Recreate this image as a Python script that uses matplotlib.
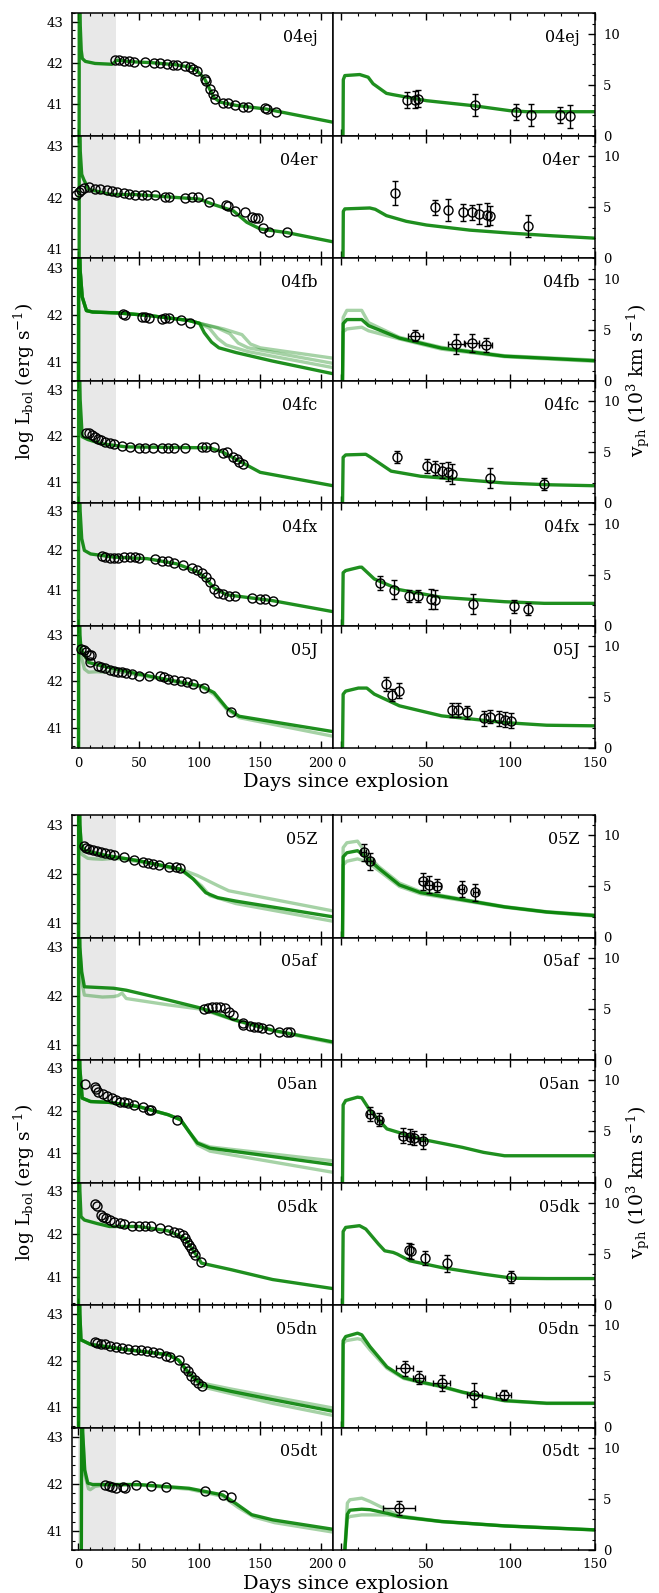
import matplotlib
matplotlib.use("Agg")
import matplotlib.pyplot as plt
from matplotlib.ticker import MultipleLocator

plt.rcParams["font.family"] = "DejaVu Serif"
plt.rcParams["mathtext.fontset"] = "dejavuserif"

W, H = 659, 1593
GREEN = "#008000"

SN_TOP = ["04ej", "04er", "04fb", "04fc", "04fx", "05J"]
SN_BOT = ["05Z", "05af", "05an", "05dk", "05dn", "05dt"]
LC_YMIN = [40.22, 40.82, 40.6, 40.55, 40.08, 40.56, 40.71, 40.69, 40.31, 40.36, 40.56, 40.6]

# ---------------- bolometric light curves: observations ----------------
lc_t_04ej = [30.7, 33.4, 37.5, 41.6, 45.7, 55.3, 62.2, 67.6, 73.1, 78.6, 81.3, 88.2, 92.3, 95, 97.8,
             104.6, 105.4, 108.7, 111.5, 112.8, 119.7, 123.8, 129.3, 136.1, 140.2, 154, 155.3, 162.7]
lc_L_04ej = [42.07, 42.07, 42.05, 42.03, 42.01, 42.01, 42.0, 41.99, 41.97, 41.95, 41.95, 41.91, 41.89, 41.85, 41.79,
             41.61, 41.56, 41.35, 41.23, 41.11, 41.03, 41.03, 40.97, 40.91, 40.92, 40.89, 40.87, 40.80]
lc_t_04er = [-1.4, 0.5, 2.4, 5.2, 8.7, 14.3, 18.3, 23.8, 27.9, 32, 37.5, 41.6, 47.1, 52.6, 56.7, 63.5, 71.8,
             74.5, 88.2, 93.7, 99.2, 107.9, 121.9, 123.3, 129.3, 137.5, 143, 145.7, 148.4, 152.5, 157.5, 171.7]
lc_L_04er = [42.05, 42.1, 42.14, 42.19, 42.21, 42.17, 42.16, 42.14, 42.13, 42.11, 42.08, 42.06, 42.05, 42.05, 42.05, 42.05, 42.02,
             42.01, 42.0, 42.01, 42.01, 41.92, 41.86, 41.84, 41.74, 41.71, 41.63, 41.61, 41.61, 41.4, 41.34, 41.34]
lc_t_04fb = [37.2, 38.3, 52.8, 55.2, 58.6, 69, 71.7, 74.8, 84.5, 92.4]
lc_L_04fb = [42.02, 42.0, 41.96, 41.95, 41.93, 41.91, 41.93, 41.94, 41.88, 41.83]
lc_t_04fc = [6.9, 9.3, 11.4, 13.8, 16.2, 19, 22.4, 25.9, 29.3, 36.2, 43.1, 50, 55.2, 62.1, 69, 74.1, 79.3,
             87.9, 101.7, 105.2, 112.1, 119, 122.4, 127.6, 131, 132.8, 135.5]
lc_L_04fc = [42.07, 42.06, 42.02, 41.99, 41.95, 41.91, 41.88, 41.85, 41.83, 41.78, 41.77, 41.75, 41.75, 41.74, 41.74, 41.75, 41.74,
             41.75, 41.77, 41.77, 41.77, 41.64, 41.66, 41.56, 41.51, 41.44, 41.4]
lc_t_04fx = [19.7, 22.4, 25.9, 29.3, 32.8, 37.9, 43.1, 46.6, 50, 63.1, 69, 74.1, 79.3, 86.2, 94.1, 98.3, 101.7,
             105.2, 108.6, 112.1, 115.5, 119, 124.1, 129.3, 143.1, 150, 154.1, 160.3]
lc_L_04fx = [41.85, 41.83, 41.81, 41.81, 41.81, 41.82, 41.82, 41.82, 41.8, 41.77, 41.74, 41.73, 41.68, 41.62, 41.55, 41.49, 41.42,
             41.32, 41.19, 41.02, 40.92, 40.88, 40.85, 40.83, 40.79, 40.77, 40.75, 40.71]
lc_t_05J = [2.4, 4.5, 6.9, 8.6, 10.3, 9.7, 16.2, 19, 22.4, 25.9, 29.3, 32.8, 36.2, 39.7, 44.8, 50, 58.6,
            67.2, 70.7, 74.1, 79.3, 84.5, 89.7, 94.8, 103.4, 125.9]
lc_L_05J = [42.69, 42.67, 42.63, 42.57, 42.56, 42.41, 42.34, 42.31, 42.28, 42.25, 42.23, 42.21, 42.2, 42.18, 42.16, 42.12, 42.11,
            42.12, 42.09, 42.05, 42.04, 42.01, 41.99, 41.94, 41.85, 41.34]
lc_t_05Z = [4.5, 6.9, 9.3, 12.1, 15.5, 19, 22.4, 25.9, 29.3, 37.9, 45.9, 53.4, 57.6, 62.1, 66.6, 74.8, 80.3, 83.8]
lc_L_05Z = [42.57, 42.53, 42.5, 42.48, 42.46, 42.44, 42.43, 42.41, 42.38, 42.34, 42.29, 42.25, 42.23, 42.2, 42.18, 42.14, 42.14, 42.12]
lc_t_05af = [103.4, 106.9, 110.3, 113.8, 117.2, 120.7, 124.1, 127.6, 135.5, 136.2, 141.4, 144.8, 148.3, 151.7,
             156.9, 165.5, 172.4, 174.8]
lc_L_05af = [41.73, 41.75, 41.77, 41.77, 41.77, 41.75, 41.68, 41.61, 41.44, 41.41, 41.39, 41.37, 41.36, 41.35,
             41.32, 41.27, 41.27, 41.27]
lc_t_05an = [5.9, 13.8, 14.8, 16.2, 20.7, 24.1, 27.6, 31, 34.5, 37.9, 41.4, 45.9, 53.4, 58.6, 60.3, 81.7]
lc_L_05an = [42.63, 42.56, 42.51, 42.45, 42.4, 42.35, 42.3, 42.26, 42.22, 42.2, 42.18, 42.14, 42.09, 42.02, 42.01, 41.79]
lc_t_05dk = [13.8, 15.5, 19, 20.7, 23.1, 25.9, 29.3, 34.5, 37.9, 44.8, 50, 55.2, 60.3, 67.2, 74.1, 79.3, 82.8,
             86.2, 87.9, 89.7, 91.4, 93.1, 94.8, 96.6, 101]
lc_L_05dk = [42.71, 42.65, 42.44, 42.41, 42.37, 42.33, 42.29, 42.27, 42.24, 42.19, 42.19, 42.19, 42.18, 42.14, 42.1, 42.06, 42.02,
             41.98, 41.91, 41.83, 41.75, 41.68, 41.6, 41.52, 41.35]
lc_t_05dn = [13.8, 15.5, 19, 22.4, 25.9, 31, 36.2, 41.4, 46.6, 51.7, 56.9, 62.1, 66.6, 72.4, 75.9, 82.8, 87.9,
             90.7, 93.1, 96.6, 99, 101.7]
lc_L_05dn = [42.4, 42.38, 42.36, 42.35, 42.32, 42.29, 42.27, 42.25, 42.24, 42.22, 42.2, 42.18, 42.17, 42.11, 42.08, 42.01, 41.84,
             41.77, 41.68, 41.59, 41.52, 41.45]
lc_t_05dt = [22.4, 25.2, 27.6, 31, 37.2, 39, 47.6, 59.7, 72.4, 104.5, 119.7, 125.9]
lc_L_05dt = [41.99, 41.95, 41.94, 41.91, 41.93, 41.91, 41.97, 41.95, 41.93, 41.86, 41.77, 41.72]

# ---------------- bolometric light curves: models ----------------
mlc_t_04ej = [0.8, 1.0, 1.8, 2.6, 3.5, 6, 14, 28, 32, 45, 60, 80, 92, 98, 104, 108, 112, 117, 130, 155, 210]
mlc_L_04ej = [38, 44.5, 42.9, 42.3, 42.1, 42.03, 41.98, 41.96, 42.06, 42.02, 42.0, 41.95, 41.89, 41.8, 41.62, 41.38, 41.15,
              41.04, 40.96, 40.87, 40.55]
mlc_t_04er = [0.8, 1.0, 1.8, 3.0, 4.7, 8.7, 27, 46, 100, 111, 128, 139, 150, 172, 210]
mlc_L_04er = [38, 44.5, 42.9, 42.45, 42.35, 42.16, 42.06, 42.06, 41.97, 41.87, 41.74, 41.52, 41.39, 41.32, 41.14]
mlc_t_04fb = [0.3, 0.5, 1.7, 3.4, 6.9, 12, 32.8, 56.9, 91.4, 100]
mlc_L_04fb = [38, 44.5, 42.95, 42.38, 42.09, 42.06, 42.04, 41.99, 41.88, 41.82]
mlc_t_04fb_a = [104, 110, 116, 130, 160, 210]
mlc_L_04fb_a = [41.62, 41.42, 41.3, 41.2, 41.02, 40.75]
mlc_t_04fb_b = [108, 115, 122, 140, 210]
mlc_L_04fb_b = [41.72, 41.5, 41.36, 41.22, 40.88]
mlc_t_04fb_c = [115, 125, 132, 140, 210]
mlc_L_04fb_c = [41.72, 41.6, 41.4, 41.3, 40.97]
mlc_t_04fb_d = [120, 135, 142, 150, 210]
mlc_L_04fb_d = [41.7, 41.58, 41.38, 41.3, 41.08]
mlc_t_04fc = [0.3, 0.5, 1.7, 3.4, 8, 19, 39.7, 108.6, 119, 134.5, 150, 210]
mlc_L_04fc = [38, 44.5, 42.8, 41.99, 41.93, 41.84, 41.77, 41.75, 41.66, 41.44, 41.22, 40.93]
mlc_t_04fx = [0.3, 0.5, 1.7, 3.0, 5.2, 10.3, 29.3, 56.9, 81, 98.3, 105, 112, 122.4, 160.3, 210]
mlc_L_04fx = [38, 44.5, 43.0, 42.3, 42.0, 41.91, 41.83, 41.79, 41.66, 41.46, 41.3, 41.04, 40.87, 40.72, 40.44]
mlc_t_05J = [0.3, 0.5, 1.5, 2.4, 8.6, 19, 50, 101.7, 112, 122.4, 132.8, 210]
mlc_L_05J = [38, 44.5, 43.0, 42.7, 42.41, 42.34, 42.16, 41.9, 41.76, 41.43, 41.25, 40.92]
mlc_t_05J_b = [0.3, 0.5, 1.5, 3.0, 5.2, 8.6, 15.5, 22, 30, 50, 101.7, 112, 122.4, 132.8, 210]
mlc_L_05J_b = [38, 44.5, 43.0, 42.5, 42.27, 42.2, 42.21, 42.2, 42.22, 42.14, 41.88, 41.72, 41.4, 41.22, 40.82]
mlc_t_05Z = [0.3, 0.5, 1.5, 2.5, 5.2, 22.4, 50, 84.5, 94.8, 105.2, 115, 130, 210]
mlc_L_05Z = [38, 44.5, 43.0, 42.6, 42.48, 42.38, 42.27, 42.1, 41.9, 41.62, 41.52, 41.45, 41.13]
mlc_t_05Z_b = [84.5, 98.3, 115.5, 124.1, 210]
mlc_L_05Z_b = [42.1, 41.97, 41.76, 41.66, 41.25]
mlc_t_05Z_c = [0.3, 0.5, 1.5, 3, 8, 12, 20, 30, 50, 84.5, 94, 101.7, 108.6, 130, 210]
mlc_L_05Z_c = [38, 44.5, 43.0, 42.4, 42.32, 42.31, 42.3, 42.32, 42.25, 42.08, 41.92, 41.76, 41.56, 41.4, 41.04]
mlc_t_05af = [0.3, 0.5, 1.5, 3.0, 5.2, 29.3, 39.7, 74.1, 101.7, 129.3, 160.3, 210]
mlc_L_05af = [38, 44.5, 43.0, 42.5, 42.19, 42.16, 42.12, 41.92, 41.75, 41.51, 41.3, 41.06]
mlc_t_05af_b = [0.3, 0.5, 1.5, 3.0, 5.2, 20, 29.3, 33, 36.2, 39.7, 74.1, 101.7, 129.3, 160.3, 210]
mlc_L_05af_b = [38, 44.5, 43.0, 42.3, 42.02, 41.98, 41.99, 42.01, 42.06, 41.95, 41.82, 41.73, 41.5, 41.29, 41.04]
mlc_t_05an = [0.3, 0.5, 1.5, 3.4, 10.3, 25.9, 50, 74.1, 84.5, 91.4, 98.3, 108.6, 210]
mlc_L_05an = [38, 44.5, 43.0, 42.3, 42.22, 42.2, 42.1, 41.91, 41.79, 41.51, 41.24, 41.12, 40.73]
mlc_t_05an_b = [98.3, 108.6, 210]
mlc_L_05an_b = [41.26, 41.15, 40.82]
mlc_t_05an_c = [98.3, 108.6, 210]
mlc_L_05an_c = [41.2, 41.05, 40.55]
mlc_t_05dk = [0.3, 0.5, 1.5, 2.4, 5.2, 15.5, 25.9, 50, 74, 88, 98, 101.7, 125.9, 160.3, 210]
mlc_L_05dk = [38, 44.5, 43.0, 42.41, 42.33, 42.25, 42.18, 42.18, 42.08, 41.91, 41.49, 41.33, 41.18, 40.95, 40.74]
mlc_t_05dn = [0.3, 0.5, 1.5, 2.4, 10.3, 39.7, 74.1, 82.8, 91.4, 101.7, 125.9, 160.3, 210]
mlc_L_05dn = [38, 44.5, 43.0, 42.45, 42.35, 42.24, 42.13, 42.01, 41.73, 41.48, 41.34, 41.16, 40.91]
mlc_t_05dn_b = [91.4, 101.7, 125.9, 160.3, 210]
mlc_L_05dn_b = [41.75, 41.52, 41.39, 41.22, 40.98]
mlc_t_05dn_c = [91.4, 101.7, 125.9, 160.3, 210]
mlc_L_05dn_c = [41.7, 41.44, 41.29, 41.08, 40.82]
mlc_t_05dt = [2.5, 3.0, 3.8, 5.5, 8.0, 12, 22.4, 50, 91.4, 119, 129.3, 143, 160.3, 210]
mlc_L_05dt = [38, 44.5, 43.1, 42.3, 42.02, 41.99, 41.99, 41.99, 41.91, 41.77, 41.6, 41.35, 41.24, 41.04]
mlc_t_05dt_b = [2.5, 3.0, 3.8, 5.5, 8.6, 10, 14, 22.4, 50, 91.4, 119, 132, 145, 162, 210]
mlc_L_05dt_b = [38, 44.5, 43.1, 42.2, 41.9, 41.88, 41.95, 41.98, 41.98, 41.89, 41.74, 41.5, 41.3, 41.18, 40.98]

# ---------------- photospheric velocities: observations ----------------
v_t_04ej = [39, 43.5, 45, 79, 103, 112, 129, 135]
v_v_04ej = [3.5, 3.55, 3.65, 3.0, 2.35, 2.05, 2.05, 1.9]
v_e_04ej = [0.8, 0.8, 0.8, 1.1, 0.8, 1.1, 0.8, 1.1]
v_t_04er = [31.5, 55.4, 63.3, 72.1, 77.5, 81.4, 86.3, 87.7, 110.4]
v_v_04er = [6.38, 5.0, 4.74, 4.5, 4.5, 4.34, 4.28, 4.18, 3.12]
v_e_04er = [1.15, 0.75, 1.1, 0.82, 0.72, 1.0, 1.1, 0.92, 1.08]
v_t_04fb = [43.8, 67.9, 77.1, 85.3]
v_v_04fb = [4.43, 3.6, 3.7, 3.5]
v_e_04fb = [0.5, 1.0, 0.9, 0.65]
v_x_04fb = [4.5, 5, 4.5, 3.7]
v_t_04fc = [33.1, 50.5, 55.5, 59.2, 62.9, 65.4, 87.8, 120.1]
v_v_04fc = [4.54, 3.64, 3.48, 3.21, 3.08, 2.88, 2.48, 1.89]
v_e_04fc = [0.6, 0.66, 0.66, 0.73, 0.93, 1.0, 1.0, 0.6]
v_t_04fx = [23.1, 31.1, 39.8, 45, 53, 55.5, 77.9, 102, 110.2]
v_v_04fx = [4.2, 3.54, 2.95, 2.89, 2.62, 2.56, 2.13, 1.9, 1.64]
v_e_04fx = [0.66, 0.92, 0.6, 0.6, 1.0, 0.92, 1.0, 0.66, 0.6]
v_t_05J = [26.1, 29.9, 34.3, 65.4, 69.2, 74.1, 84.1, 87.8, 93.5, 96.5, 100.2]
v_v_05J = [6.3, 5.21, 5.64, 3.74, 3.74, 3.51, 2.92, 3.11, 2.92, 2.79, 2.69]
v_e_05J = [0.66, 0.6, 0.72, 0.72, 0.72, 0.6, 0.72, 0.66, 0.72, 0.72, 0.72]
v_t_05Z = [13.2, 16.9, 48, 51.7, 56.7, 71.1, 79.1]
v_v_05Z = [8.36, 7.47, 5.49, 5.16, 5.07, 4.74, 4.44]
v_e_05Z = [0.82, 0.82, 0.82, 0.82, 0.66, 0.82, 0.82]
v_x_05Z = [1.5, 1.5, 2, 2, 2, 1.5, 1.5]
v_t_05an = [16.9, 22.4, 36.3, 40.5, 43, 48]
v_v_05an = [6.72, 6.16, 4.59, 4.49, 4.36, 4.03]
v_e_05an = [0.72, 0.66, 0.72, 0.72, 0.72, 0.72]
v_x_05an = [1.5, 1.5, 2, 2, 2, 1.5]
v_t_05dk = [40, 41, 49.3, 62.2, 100.2]
v_v_05dk = [5.35, 5.25, 4.59, 4.07, 2.75]
v_e_05dk = [0.72, 0.72, 0.66, 0.82, 0.6]
v_t_05dn = [37.3, 46, 59.2, 78.6, 96]
v_v_05dn = [5.78, 4.88, 4.36, 3.2, 3.2]
v_e_05dn = [0.73, 0.66, 0.82, 1.15, 0.5]
v_x_05dn = [5, 3.7, 5, 4.5, 4.5]
v_t_05dt = [33.8]
v_v_05dt = [4.1]
v_e_05dt = [0.72]
v_x_05dt = [9.5]

# ---------------- photospheric velocities: models ----------------
mv_t_04ej = [0.9, 1.1, 2.0, 10.8, 15.8, 18.7, 26.6, 30.5, 50.3, 78, 99.6, 109.5, 150]
mv_v_04ej = [-0.5, 5.5, 5.9, 6.0, 5.74, 5.1, 4.16, 4.03, 3.44, 2.95, 2.46, 2.36, 2.36]
mv_t_04er = [0.9, 1.1, 2, 16.8, 20, 26.6, 38.4, 50.3, 75.9, 99.6, 125.2, 150]
mv_v_04er = [-0.5, 4.6, 4.84, 4.93, 4.8, 4.18, 3.62, 3.26, 2.76, 2.47, 2.2, 1.97]
mv_t_04fb = [0.6, 1.0, 3.2, 12, 16, 34.3, 59.2, 96.5, 150]
mv_v_04fb = [-0.5, 5.6, 6.0, 6.0, 5.4, 4.18, 3.2, 2.41, 1.97]
mv_v_04fb_b = [-0.5, 6.2, 6.9, 6.9, 5.7, 4.26, 3.28, 2.46, 2.03]
mv_v_04fb_c = [-0.5, 4.8, 5.08, 5.25, 4.9, 4.1, 3.1, 2.36, 1.9]
mv_t_04fc = [0.6, 1.0, 2.5, 14.4, 17, 29.4, 46.8, 71.6, 96.5, 121.4, 150]
mv_v_04fc = [-0.5, 4.5, 4.74, 4.8, 4.54, 3.15, 2.65, 2.32, 1.99, 1.82, 1.72]
mv_t_04fx = [0.6, 1.0, 2.5, 10.7, 12, 19.4, 34.3, 59.2, 96.5, 120, 150]
mv_v_04fx = [-0.5, 5.2, 5.41, 5.74, 5.74, 4.59, 3.54, 2.79, 2.36, 2.2, 2.2]
mv_t_05J = [0.6, 1.0, 2.5, 10, 15, 19.4, 34.3, 59.2, 96.5, 121.4, 150]
mv_v_05J = [-0.5, 5.3, 5.6, 5.9, 5.9, 5.31, 4.16, 3.18, 2.52, 2.26, 2.2]
mv_t_05Z = [0.6, 1.0, 3.2, 9.5, 14.4, 21.9, 34.3, 46.8, 71.6, 96.5, 121.4, 150]
mv_v_05Z = [-0.5, 7.9, 8.3, 8.5, 7.9, 6.8, 5.15, 4.4, 3.7, 3.0, 2.5, 2.15]
mv_v_05Z_b = [-0.5, 8.8, 9.28, 9.44, 8.29, 6.97, 5.33, 4.5, 3.75, 3.03, 2.53, 2.2]
mv_v_05Z_c = [-0.5, 7.1, 7.47, 7.7, 7.47, 6.58, 5.0, 4.28, 3.62, 2.96, 2.47, 2.1]
mv_t_05an = [0.6, 1.0, 2.5, 9.5, 12, 16.9, 26.9, 46.8, 71.6, 84.1, 96.5, 121.4, 150]
mv_v_05an = [-0.5, 7.6, 8.03, 8.36, 8.3, 7.05, 5.25, 4.26, 3.44, 2.95, 2.62, 2.62, 2.62]
mv_t_05dk = [0.6, 1.0, 2.5, 10.7, 14.4, 21.9, 25.6, 30.6, 33.1, 40.5, 59.2, 84.1, 101.5, 121.4, 150]
mv_v_05dk = [-0.5, 7.2, 7.6, 7.77, 7.44, 5.97, 5.31, 5.15, 4.98, 4.33, 3.67, 3.02, 2.62, 2.59, 2.59]
mv_t_05dn = [0.6, 1.0, 2.5, 9.5, 12, 16.9, 26.9, 36.8, 46.8, 59.2, 71.6, 84.1, 96.5, 121.4, 150]
mv_v_05dn = [-0.5, 8.5, 8.91, 9.24, 9.08, 7.92, 5.94, 4.88, 4.46, 4.03, 3.47, 3.04, 2.64, 2.38, 2.38]
mv_v_05dn_b = [-0.5, 8.2, 8.5, 8.7, 8.6, 7.6, 5.8, 4.8, 4.4, 3.98, 3.43, 3.0, 2.6, 2.35, 2.35]
mv_t_05dt = [1.8, 3.5, 5.0, 12, 16.9, 26.9, 34.3, 59.2, 96.5, 150]
mv_v_05dt = [-0.5, 3.5, 3.9, 4.0, 3.95, 3.6, 3.28, 2.79, 2.36, 1.97]
mv_v_05dt_b = [-0.5, 4.6, 4.92, 5.08, 4.75, 3.93, 3.35, 2.8, 2.37, 1.98]
mv_v_05dt_c = [-0.5, 3.1, 3.28, 3.44, 3.44, 3.44, 3.25, 2.77, 2.35, 1.95]

# lookup tables built from the lists above
LC_OBS = {
    "04ej": (lc_t_04ej, lc_L_04ej), "04er": (lc_t_04er, lc_L_04er), "04fb": (lc_t_04fb, lc_L_04fb),
    "04fc": (lc_t_04fc, lc_L_04fc), "04fx": (lc_t_04fx, lc_L_04fx), "05J": (lc_t_05J, lc_L_05J),
    "05Z": (lc_t_05Z, lc_L_05Z), "05af": (lc_t_05af, lc_L_05af), "05an": (lc_t_05an, lc_L_05an),
    "05dk": (lc_t_05dk, lc_L_05dk), "05dn": (lc_t_05dn, lc_L_05dn), "05dt": (lc_t_05dt, lc_L_05dt),
}
# the first curve of each list is the main model, the rest are fainter ensemble members
LC_MODEL = {
    "04ej": [(mlc_t_04ej, mlc_L_04ej)],
    "04er": [(mlc_t_04er, mlc_L_04er)],
    "04fb": [(mlc_t_04fb + mlc_t_04fb_a, mlc_L_04fb + mlc_L_04fb_a),
             (mlc_t_04fb + mlc_t_04fb_b, mlc_L_04fb + mlc_L_04fb_b),
             (mlc_t_04fb + mlc_t_04fb_c, mlc_L_04fb + mlc_L_04fb_c),
             (mlc_t_04fb + mlc_t_04fb_d, mlc_L_04fb + mlc_L_04fb_d)],
    "04fc": [(mlc_t_04fc, mlc_L_04fc)],
    "04fx": [(mlc_t_04fx, mlc_L_04fx)],
    "05J": [(mlc_t_05J, mlc_L_05J), (mlc_t_05J_b, mlc_L_05J_b)],
    "05Z": [(mlc_t_05Z, mlc_L_05Z), (mlc_t_05Z[:8] + mlc_t_05Z_b, mlc_L_05Z[:8] + mlc_L_05Z_b),
            (mlc_t_05Z_c, mlc_L_05Z_c)],
    "05af": [(mlc_t_05af, mlc_L_05af), (mlc_t_05af_b, mlc_L_05af_b)],
    "05an": [(mlc_t_05an, mlc_L_05an), (mlc_t_05an[:10] + mlc_t_05an_b, mlc_L_05an[:10] + mlc_L_05an_b),
             (mlc_t_05an[:10] + mlc_t_05an_c, mlc_L_05an[:10] + mlc_L_05an_c)],
    "05dk": [(mlc_t_05dk, mlc_L_05dk)],
    "05dn": [(mlc_t_05dn, mlc_L_05dn), (mlc_t_05dn[:8] + mlc_t_05dn_b, mlc_L_05dn[:8] + mlc_L_05dn_b),
             (mlc_t_05dn[:8] + mlc_t_05dn_c, mlc_L_05dn[:8] + mlc_L_05dn_c)],
    "05dt": [(mlc_t_05dt, mlc_L_05dt), (mlc_t_05dt_b, mlc_L_05dt_b)],
}
V_OBS = {
    "04ej": (v_t_04ej, v_v_04ej, v_e_04ej, None), "04er": (v_t_04er, v_v_04er, v_e_04er, None),
    "04fb": (v_t_04fb, v_v_04fb, v_e_04fb, v_x_04fb), "04fc": (v_t_04fc, v_v_04fc, v_e_04fc, None),
    "04fx": (v_t_04fx, v_v_04fx, v_e_04fx, None), "05J": (v_t_05J, v_v_05J, v_e_05J, None),
    "05Z": (v_t_05Z, v_v_05Z, v_e_05Z, v_x_05Z), "05an": (v_t_05an, v_v_05an, v_e_05an, v_x_05an),
    "05dk": (v_t_05dk, v_v_05dk, v_e_05dk, None), "05dn": (v_t_05dn, v_v_05dn, v_e_05dn, v_x_05dn),
    "05dt": (v_t_05dt, v_v_05dt, v_e_05dt, v_x_05dt),
}
V_MODEL = {
    "04ej": [(mv_t_04ej, mv_v_04ej)],
    "04er": [(mv_t_04er, mv_v_04er)],
    "04fb": [(mv_t_04fb, mv_v_04fb), (mv_t_04fb, mv_v_04fb_b), (mv_t_04fb, mv_v_04fb_c)],
    "04fc": [(mv_t_04fc, mv_v_04fc)],
    "04fx": [(mv_t_04fx, mv_v_04fx)],
    "05J": [(mv_t_05J, mv_v_05J)],
    "05Z": [(mv_t_05Z, mv_v_05Z), (mv_t_05Z, mv_v_05Z_b), (mv_t_05Z, mv_v_05Z_c)],
    "05an": [(mv_t_05an, mv_v_05an)],
    "05dk": [(mv_t_05dk, mv_v_05dk)],
    "05dn": [(mv_t_05dn, mv_v_05dn), (mv_t_05dn, mv_v_05dn_b)],
    "05dt": [(mv_t_05dt, mv_v_05dt), (mv_t_05dt, mv_v_05dt_b), (mv_t_05dt, mv_v_05dt_c)],
}


def style_axis(ax, side):
    ax.tick_params(which="both", direction="in", top=True, bottom=True,
                   left=(side == "left"), right=(side == "right"), labelsize=9.5, pad=6)
    ax.tick_params(which="major", length=5, width=1)
    ax.tick_params(which="minor", length=2.5, width=0.8)
    for sp in ax.spines.values():
        sp.set_linewidth(1.1)


def draw_models(ax, curves):
    for i, (t, y) in enumerate(curves):
        alpha = 0.88 if i == 0 else 0.35
        ax.plot(t, y, color=GREEN, lw=2.4, alpha=alpha, zorder=2)


fig = plt.figure(figsize=(W / 100, H / 100), dpi=100)
row_h = 122.5
blocks = [(SN_TOP, 13.3), (SN_BOT, 815.0)]

for b, (names, top_px) in enumerate(blocks):
    for i, name in enumerate(names):
        k = b * 6 + i
        y0 = 1 - (top_px + (i + 1) * row_h) / H
        hh = row_h / H
        axl = fig.add_axes([72 / W, y0, 261 / W, hh])
        axr = fig.add_axes([333 / W, y0, 262 / W, hh])

        # left: bolometric light curve
        axl.axvspan(0, 31, color="0.91", lw=0, zorder=0)
        draw_models(axl, LC_MODEL[name])
        t, L = LC_OBS[name]
        axl.plot(t, L, "o", mfc="none", mec="k", ms=6.5, mew=1.0, zorder=3)
        axl.set_xlim(-5, 210)
        axl.set_ylim(LC_YMIN[k], 43.2)
        axl.xaxis.set_major_locator(MultipleLocator(50))
        axl.xaxis.set_minor_locator(MultipleLocator(10))
        axl.yaxis.set_major_locator(MultipleLocator(1))
        axl.yaxis.set_minor_locator(MultipleLocator(0.2))
        style_axis(axl, "left")
        axl.text(0.94, 0.8, name, transform=axl.transAxes, ha="right", va="center", fontsize=11.5)

        # right: photospheric velocity
        if name in V_MODEL:
            draw_models(axr, V_MODEL[name])
        if name in V_OBS:
            vt, vv, ve, vx = V_OBS[name]
            axr.errorbar(vt, vv, yerr=ve, xerr=vx, fmt="o", mfc="none", mec="k", ecolor="k",
                         ms=6.5, mew=1.0, elinewidth=1.0, capsize=2.5, capthick=1.0, zorder=3)
        axr.set_xlim(-5, 150)
        axr.set_ylim(0, 12)
        axr.xaxis.set_major_locator(MultipleLocator(50))
        axr.xaxis.set_minor_locator(MultipleLocator(10))
        axr.yaxis.set_major_locator(MultipleLocator(5))
        axr.yaxis.set_minor_locator(MultipleLocator(1))
        axr.yaxis.tick_right()
        style_axis(axr, "right")
        axr.text(0.94, 0.8, name, transform=axr.transAxes, ha="right", va="center", fontsize=11.5)

        if i < 5:
            axl.tick_params(labelbottom=False)
            axr.tick_params(labelbottom=False)

    mid = 1 - (top_px + 3 * row_h) / H
    fig.text(24 / W, mid, r"log L$_\mathrm{bol}$ (erg s$^{-1}$)", rotation=90,
             ha="center", va="center", fontsize=13.5)
    fig.text(638 / W, mid, r"v$_\mathrm{ph}$ (10$^3$ km s$^{-1}$)", rotation=90,
             ha="center", va="center", fontsize=13.5)
    fig.text(346 / W, 1 - (top_px + 6 * row_h + 34) / H, "Days since explosion",
             ha="center", va="center", fontsize=14)

fig.savefig("out.png", dpi=100)
